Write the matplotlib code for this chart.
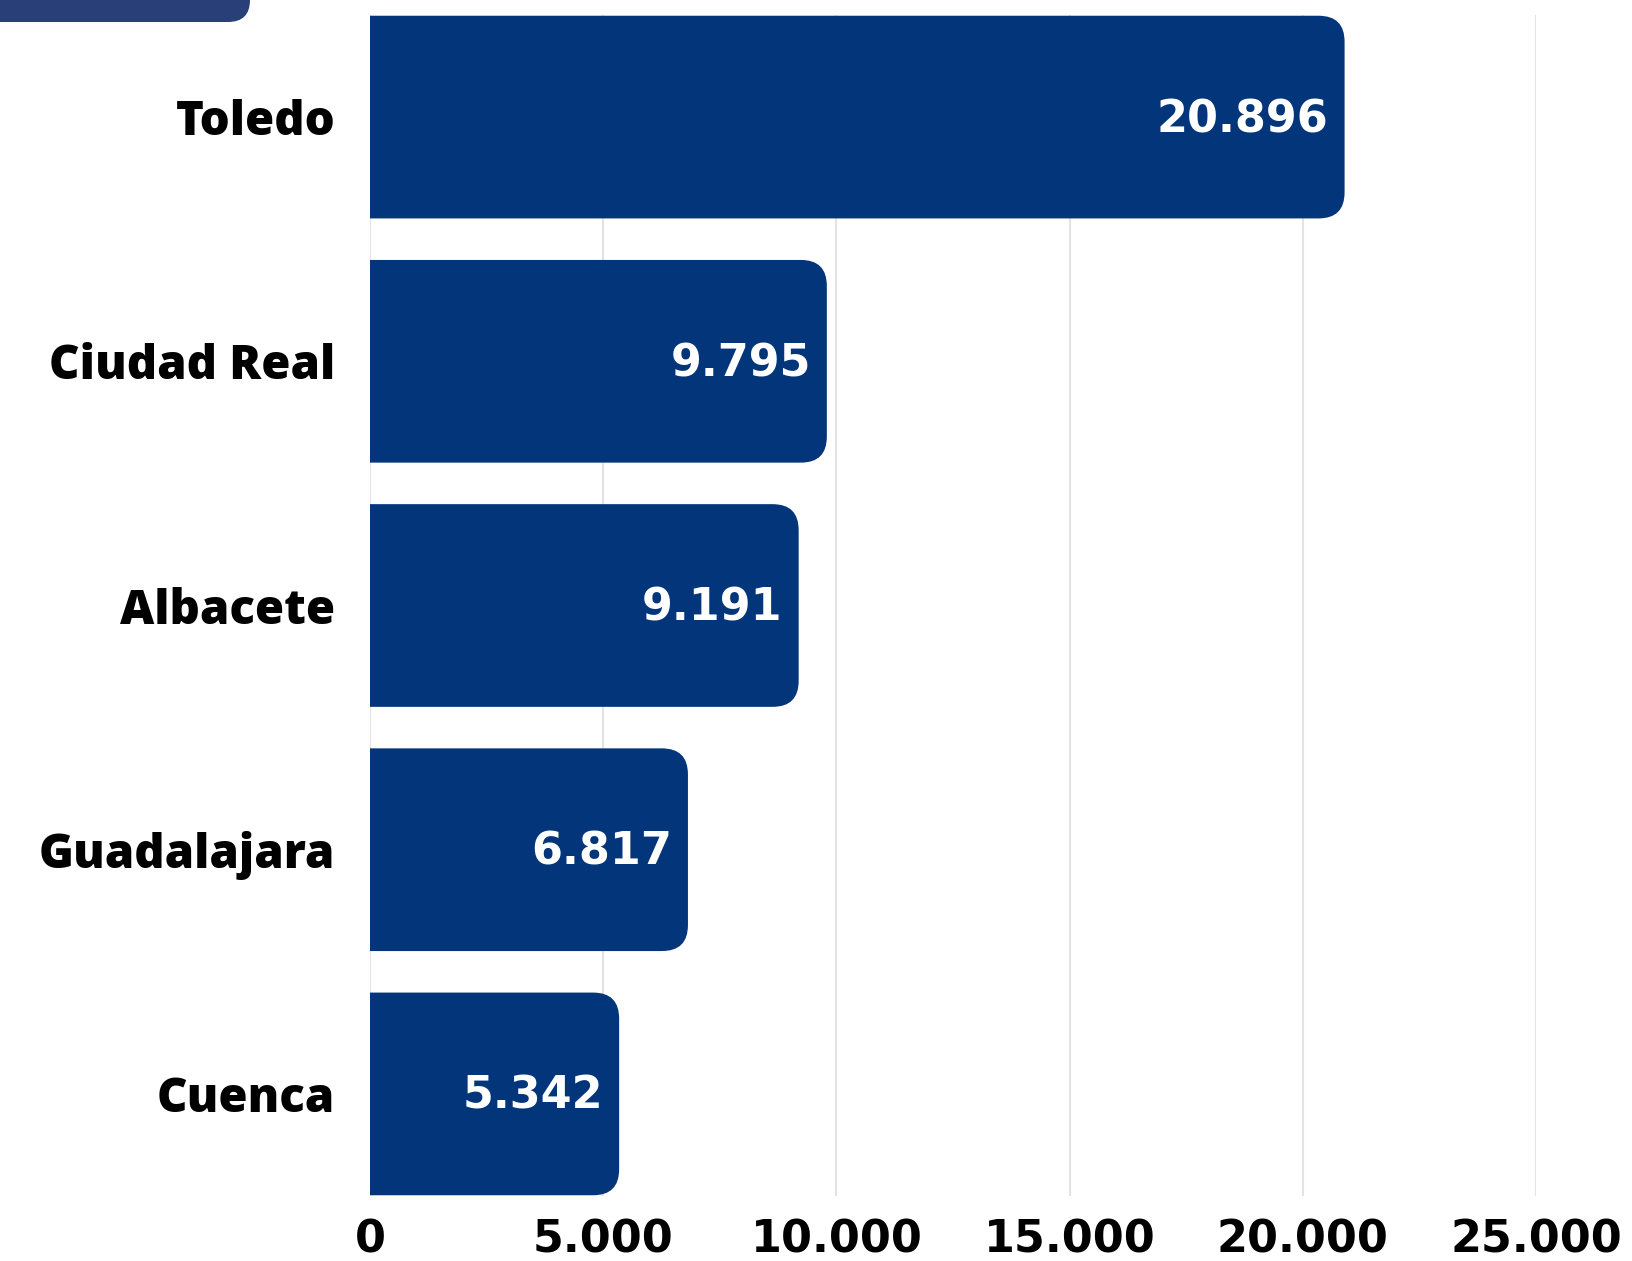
import matplotlib
matplotlib.use('Agg')
import matplotlib.pyplot as plt
from matplotlib.patches import FancyBboxPatch

provincias = ['Toledo', 'Ciudad Real', 'Albacete', 'Guadalajara', 'Cuenca']
valores = [20896, 9795, 9191, 6817, 5342]
etiquetas = ['20.896', '9.795', '9.191', '6.817', '5.342']
xticks = [0, 5000, 10000, 15000, 20000, 25000]
xtick_labels = ['0', '5.000', '10.000', '15.000', '20.000', '25.000']

azul = '#03357a'
W, H = 1633, 1261
plt.rcParams['font.family'] = ['Open Sans', 'DejaVu Sans']
fuente_num = dict(family='DejaVu Sans', fontsize=32, fontweight='bold')

fig = plt.figure(figsize=(W / 100, H / 100), dpi=100)
# axes en pixeles: izquierda 370, derecha 1536, arriba 15, abajo 1196
ax = fig.add_axes([370 / W, 1 - 1196 / H, (1536 - 370) / W, (1196 - 15) / H])

alto = 0.83
ax.set_xlim(0, 25000)
ax.set_ylim(len(provincias) - 1 + alto / 2 + 0.003, -alto / 2 - 0.003)

# radio de las esquinas en pixeles -> unidades de datos
px_x = ax.get_window_extent().width / 25000.0
px_y = ax.get_window_extent().height / (len(provincias) - 1 + alto + 0.006)
r_px = 26
r_x = r_px / px_x
aspecto = (r_px / px_y) / r_x

for i, v in enumerate(valores):
    # empieza a la izquierda del eje para que el recorte deje la esquina recta
    caja = FancyBboxPatch((-3 * r_x, i - alto / 2), v + 3 * r_x, alto,
                          boxstyle='round,pad=0,rounding_size=%f' % r_x,
                          mutation_aspect=aspecto, fc=azul, ec='none', zorder=3)
    ax.add_patch(caja)
    ax.text(v - 16 / px_x, i + 0.01, etiquetas[i], color='white', ha='right', va='center',
            zorder=4, **fuente_num)

ax.set_yticks(range(len(provincias)))
ax.set_yticklabels(provincias, fontsize=34, fontweight='heavy')
ax.set_xticks(xticks)
ax.set_xticklabels(xtick_labels, **fuente_num)
ax.tick_params(axis='y', length=0, pad=25)
ax.tick_params(axis='x', length=0, pad=16)

ax.grid(axis='x', color='#e3e3e3', linewidth=1.5, zorder=0)
for s in ax.spines.values():
    s.set_visible(False)

# forma decorativa arriba a la izquierda
fig.add_artist(FancyBboxPatch((-40, H - 22), 290, 80, boxstyle='round,pad=0,rounding_size=22',
                              transform=None, fc='#283f77', ec='none'))

fig.savefig('out.png', dpi=100)
